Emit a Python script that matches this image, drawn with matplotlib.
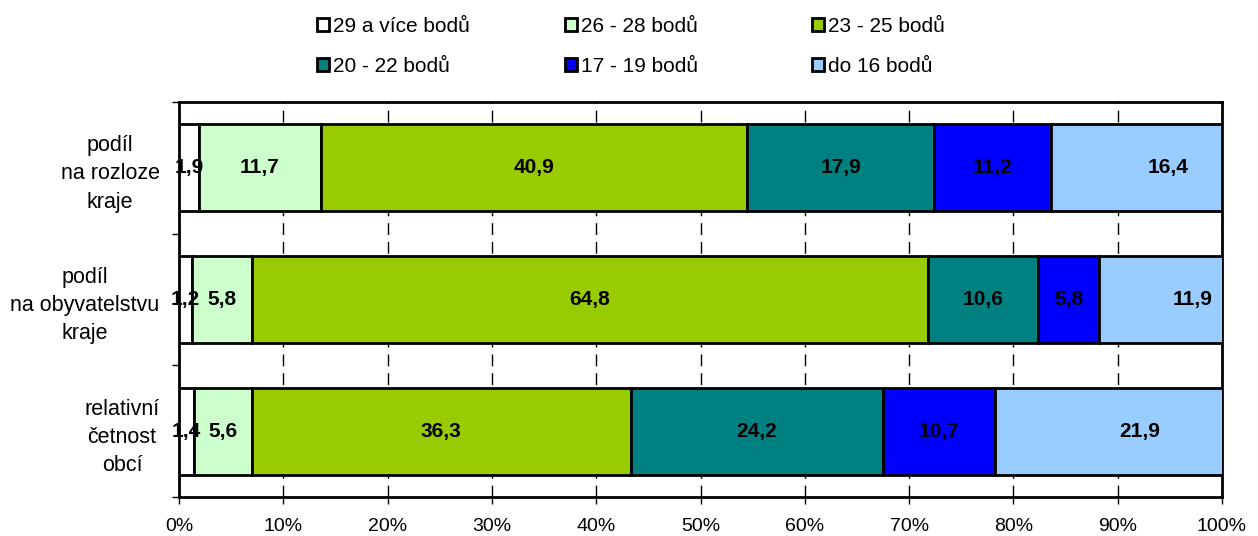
import numpy as np
import matplotlib.pyplot as plt
from matplotlib.ticker import FixedLocator, FuncFormatter

plt.rcParams['font.family'] = ['Liberation Sans', 'DejaVu Sans']

# Data
kategorie = ["podíl\nna rozloze\nkraje", "podíl\nna obyvatelstvu\nkraje", "relativní\nčetnost\nobcí"]
skupiny = ["29 a více bodů", "26 - 28 bodů", "23 - 25 bodů", "20 - 22 bodů", "17 - 19 bodů", "do 16 bodů"]
v29 = [1.9, 1.2, 1.4]
v26 = [11.7, 5.8, 5.6]
v23 = [40.9, 64.8, 36.3]
v20 = [17.9, 10.6, 24.2]
v17 = [11.2, 5.8, 10.7]
v16 = [16.4, 11.9, 21.9]
hodnoty = [v29, v26, v23, v20, v17, v16]
barvy = ["#ffffff", "#ccffcc", "#99cc00", "#008080", "#0000ff", "#99ccff"]

fig = plt.figure(figsize=(12.58, 5.36), dpi=100)
ax = fig.add_axes([179 / 1258, 1 - 497 / 536, (1222 - 179) / 1258, (497 - 102) / 536])

y = np.arange(len(kategorie))
left = np.zeros(len(kategorie))
handles = []
for i, (nazev, vals, c) in enumerate(zip(skupiny, hodnoty, barvy)):
    vals = np.array(vals)
    h = ax.barh(y, vals, left=left, height=0.66, color=c, edgecolor="black",
                linewidth=2, label=nazev, zorder=3)
    handles.append(h)
    for j in range(len(y)):
        # posledni popisek je v Excelu posunuty doprava
        xpos = left[j] + vals[j] / 2 + (3.0 if i == len(skupiny) - 1 else 0)
        ax.text(xpos, y[j], f"{vals[j]:.1f}".replace(".", ","), ha="center", va="center",
                fontsize=15, fontweight="bold", color="black", zorder=4)
    left += vals

ax.set_xlim(0, 100)
ax.set_ylim(len(kategorie) - 0.5, -0.5)
ax.set_xticks(np.arange(0, 101, 10))
ax.xaxis.set_major_formatter(FuncFormatter(lambda v, p: f"{v:.0f}%"))
ax.set_yticks(y)
ax.set_yticklabels(kategorie, fontsize=15.5, multialignment="center", linespacing=1.45)
ax.tick_params(axis="y", length=0, pad=14)
ax.yaxis.set_minor_locator(FixedLocator([-0.5, 0.5, 1.5, 2.5]))
ax.tick_params(axis="y", which="minor", length=5, width=1)
ax.tick_params(axis="x", labelsize=14, length=5, width=1, pad=10)
ax.grid(axis="x", color="black", linestyle=(0, (8.5, 5)), linewidth=1, zorder=0)
for s in ax.spines.values():
    s.set_linewidth(2)

# legenda po radcich: tri sloupce
sloupce_x = [302, 550, 797]
for k, x0 in enumerate(sloupce_x):
    fig.legend([handles[k], handles[k + 3]], [skupiny[k], skupiny[k + 3]],
               loc="upper left", bbox_to_anchor=(x0 / 1258, 0.996), frameon=False,
               fontsize=15, handlelength=0.6, handleheight=0.6, handletextpad=0.2,
               labelspacing=1.0, borderaxespad=0.3)

plt.savefig("out.png", dpi=100)
